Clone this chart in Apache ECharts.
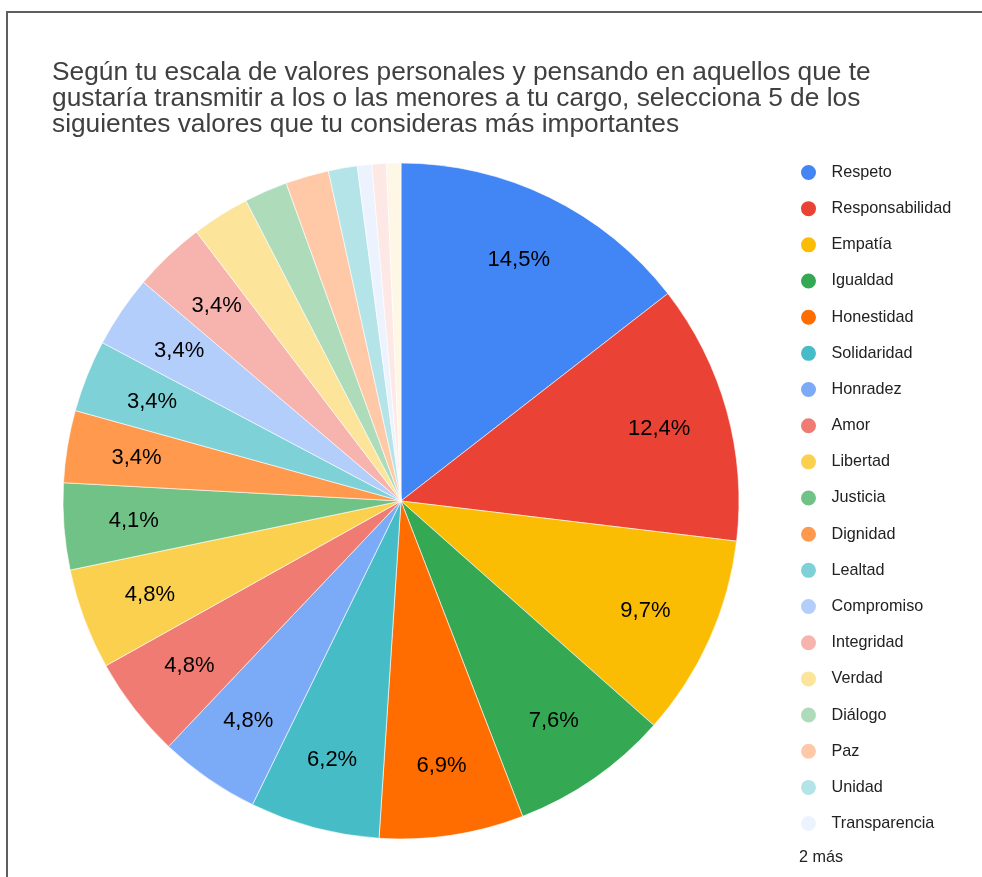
<!DOCTYPE html>
<html>
<head>
<meta charset="utf-8">
<script src="https://cdn.jsdelivr.net/npm/echarts@6/dist/echarts.min.js"></script>
<style>
  html, body { margin: 0; padding: 0; background: #fff; }
  #chart { width: 982px; height: 877px; }
</style>
</head>
<body>
<div id="chart"></div>
<script>
// Values chosen by respondents (counts per value)
const categories = [
  'Respeto', 'Responsabilidad', 'Empatía', 'Igualdad', 'Honestidad',
  'Solidaridad', 'Honradez', 'Amor', 'Libertad', 'Justicia',
  'Dignidad', 'Lealtad', 'Compromiso', 'Integridad', 'Verdad',
  'Diálogo', 'Paz', 'Unidad', 'Transparencia', 'Otro 1', 'Otro 2'
];
const counts = [21, 18, 14, 11, 10, 9, 7, 7, 7, 6, 5, 5, 5, 5, 4, 3, 3, 2, 1, 1, 1];
const palette = [
  '#4285f4', '#ea4335', '#fbbc04', '#34a853', '#ff6d01',
  '#46bdc6', '#7baaf7', '#f07b72', '#fcd04f', '#71c287',
  '#ff994d', '#7ed1d7', '#b3cefb', '#f7b4ae', '#fde49b',
  '#aedcba', '#ffc8a6', '#b5e4e8', '#ecf3fe', '#fde8e6', '#fff7e6'
];
const legendShown = 19;
const titleText = 'Según tu escala de valores personales y pensando en aquellos que te\n' +
  'gustaría transmitir a los o las menores a tu cargo, selecciona 5 de los\n' +
  'siguientes valores que tu consideras más importantes';

const total = counts.reduce((a, b) => a + b, 0);
const pieData = categories.map((name, i) => ({ name, value: counts[i] }));

const CX = 401, CY = 501, R = 338;
const FONT = 'Liberation Sans, Arial, sans-serif';

const chart = echarts.init(document.getElementById('chart'), null, { renderer: 'canvas' });
chart.setOption({
  animation: false,
  color: palette,
  title: {
    text: titleText,
    left: 47,
    top: 55,
    textStyle: {
      fontFamily: FONT,
      fontSize: 26.3,
      fontWeight: 'normal',
      color: '#404040',
      lineHeight: 26
    }
  },
  legend: {
    orient: 'vertical',
    left: 794,
    top: 158,
    height: 710,
    icon: 'circle',
    itemWidth: 36,
    itemHeight: 17,
    itemGap: 17.17,
    selectedMode: false,
    data: categories.slice(0, legendShown),
    textStyle: {
      fontFamily: FONT,
      fontSize: 16.2,
      color: '#222222',
      lineHeight: 17,
      height: 17
    }
  },
  graphic: [
    {
      type: 'rect',
      shape: { x: 7, y: 12, width: 1000, height: 900 },
      style: { fill: 'none', stroke: '#5f5f5f', lineWidth: 2 },
      silent: true
    },
    {
      type: 'text',
      left: 799,
      top: 850,
      style: {
        text: '2 más',
        font: '16.2px Liberation Sans, Arial, sans-serif',
        fill: '#222222'
      }
    }
  ],
  series: [
    {
      type: 'pie',
      center: [CX, CY],
      radius: [0, R],
      startAngle: 90,
      clockwise: true,
      avoidLabelOverlap: false,
      silent: true,
      label: { show: false },
      labelLine: { show: false },
      itemStyle: { borderColor: '#ffffff', borderWidth: 0.6 },
      data: pieData
    },
    {
      // transparent ring that only carries the percentage labels
      type: 'pie',
      center: [CX, CY],
      radius: [192, R],
      startAngle: 90,
      clockwise: true,
      avoidLabelOverlap: false,
      silent: true,
      itemStyle: { color: 'rgba(0,0,0,0)' },
      labelLine: { show: false },
      label: {
        show: true,
        position: 'inside',
        fontFamily: FONT,
        fontSize: 22,
        color: '#000000',
        formatter: p => {
          const pct = p.value / total * 100;
          return pct < 3 ? '' : pct.toFixed(1).replace('.', ',') + '%';
        }
      },
      data: pieData
    }
  ]
});
</script>
</body>
</html>
